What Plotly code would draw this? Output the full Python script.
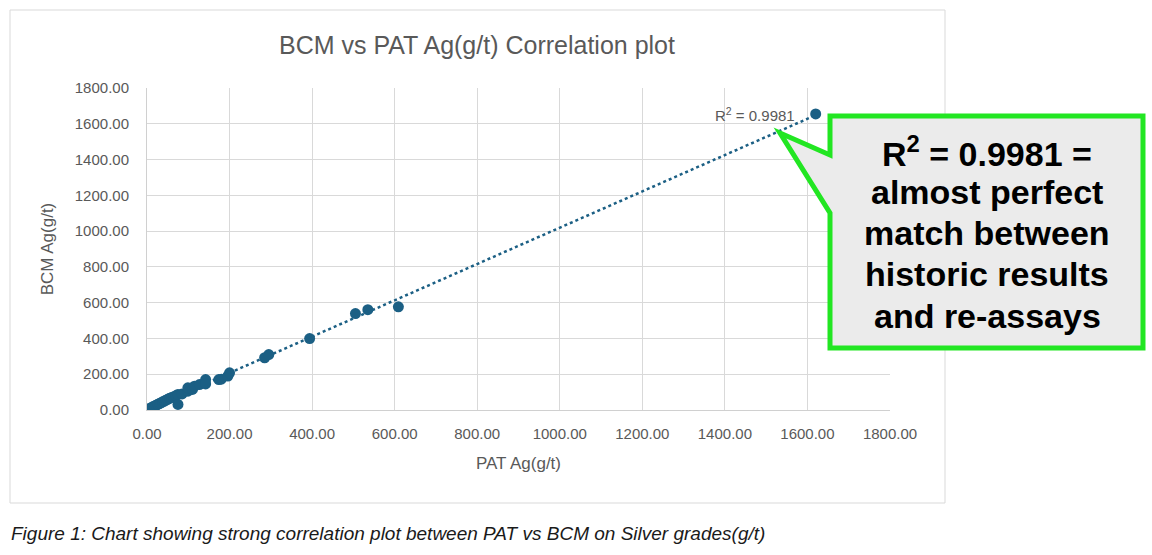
import numpy as np
import plotly.graph_objects as go

# ---- data ----
pat = [0, 3, 6, 10, 14, 18, 22, 26, 30, 34, 38, 42, 46, 50, 55, 60, 65, 70, 75, 75,
       85, 99, 99, 110, 115, 127, 142, 142, 174, 180, 196, 200, 285, 295, 394, 505,
       535, 609, 1620]
bcm = [0, 4, 8, 12, 18, 22, 26, 32, 36, 40, 46, 50, 55, 60, 66, 70, 74, 80, 87, 31,
       90, 105, 124, 115, 133, 142, 170, 146, 170, 172, 190, 208, 292, 310, 399, 539,
       561, 577, 1655]
tick_vals = [0, 200, 400, 600, 800, 1000, 1200, 1400, 1600, 1800]
tick_text = [f"{v:.2f}" for v in tick_vals]
r2_label = "R<sup>2</sup> = 0.9981"
callout_lines = ["R<sup>2</sup> = 0.9981 =", "almost perfect", "match between",
                 "historic results", "and re-assays"]
title = "BCM vs PAT Ag(g/t) Correlation plot"
x_title = "PAT Ag(g/t)"
y_title = "BCM Ag(g/t)"
caption = "Figure 1: Chart showing strong correlation plot between PAT vs BCM on Silver grades(g/t)"

# ---- layout geometry (pixels) ----
W, H = 1152, 555
X0, X1 = 147, 890
YB, YT = 410, 88

def px(x):
    return (x - X0) / (X1 - X0)

def py(y):
    return (YB - y) / (YB - YT)

COL = "#1b5f84"
GRAY = "#595959"
FONT = "Liberation Sans"

fig = go.Figure()

# trendline (linear least squares on the data)
slope, intercept = np.polyfit(pat, bcm, 1)
tx = np.linspace(min(pat), max(pat), 60)
fig.add_trace(go.Scatter(x=tx, y=slope * tx + intercept, mode="lines",
                         line=dict(color=COL, width=2.5, dash="dot"),
                         hoverinfo="skip", showlegend=False))
fig.add_trace(go.Scatter(x=pat, y=bcm, mode="markers",
                         marker=dict(color=COL, size=11, line=dict(width=0)),
                         showlegend=False))

axis_common = dict(range=[0, 1800], tickvals=tick_vals, ticktext=tick_text,
                   showgrid=True, gridcolor="#d9d9d9", gridwidth=1,
                   zeroline=False, showline=True, linecolor="#d0d0d0", linewidth=1,
                   tickfont=dict(family=FONT, size=15, color=GRAY),
                   fixedrange=True)

fig.update_xaxes(**axis_common, ticklabelstandoff=10,
                 title=dict(text=x_title, font=dict(family=FONT, size=17, color=GRAY),
                            standoff=16))
fig.update_yaxes(**axis_common, ticklabelstandoff=14,
                 title=dict(text=y_title, font=dict(family=FONT, size=17, color=GRAY),
                            standoff=16))

shapes = [
    # chart outer border
    dict(type="rect", xref="paper", yref="paper", x0=px(10), x1=px(945), y0=py(503), y1=py(10),
         line=dict(color="#d9d9d9", width=1), fillcolor="rgba(0,0,0,0)", layer="below"),
]
# callout bubble
pts = [(780, 133), (830, 155), (830, 116), (1143, 116), (1143, 348), (830, 348), (830, 213)]
path = "M " + " L ".join(f"{px(x):.5f},{py(y):.5f}" for x, y in pts) + " Z"
shapes.append(dict(type="path", xref="paper", yref="paper", path=path,
                   fillcolor="#ebebeb", line=dict(color="#22e622", width=5), layer="above"))

annotations = [
    dict(text=title, xref="paper", yref="paper", x=px(477), y=py(45), showarrow=False,
         xanchor="center", yanchor="middle",
         font=dict(family=FONT, size=25, color=GRAY)),
    dict(text=r2_label, xref="paper", yref="paper", x=px(797), y=py(114), showarrow=False,
         xanchor="right", yanchor="middle",
         font=dict(family=FONT, size=15, color=GRAY)),
    dict(text=f"<i>{caption}</i>", xref="paper", yref="paper", x=px(9), y=py(533), showarrow=False,
         xanchor="left", yanchor="middle",
         font=dict(family=FONT, size=19, color="#1a1a1a")),
]
line_y = [151, 192, 233, 274, 316]
for txt, yy in zip(callout_lines, line_y):
    annotations.append(dict(text=f"<b>{txt}</b>", xref="paper", yref="paper",
                            x=px(987), y=py(yy), showarrow=False,
                            xanchor="center", yanchor="middle",
                            font=dict(family=FONT, size=34, color="#000000")))

fig.update_layout(width=W, height=H, margin=dict(l=X0, r=W - X1, t=YT, b=H - YB),
                  paper_bgcolor="white", plot_bgcolor="white",
                  shapes=shapes, annotations=annotations, showlegend=False)

fig.write_html("out.html", config={"displayModeBar": False})
